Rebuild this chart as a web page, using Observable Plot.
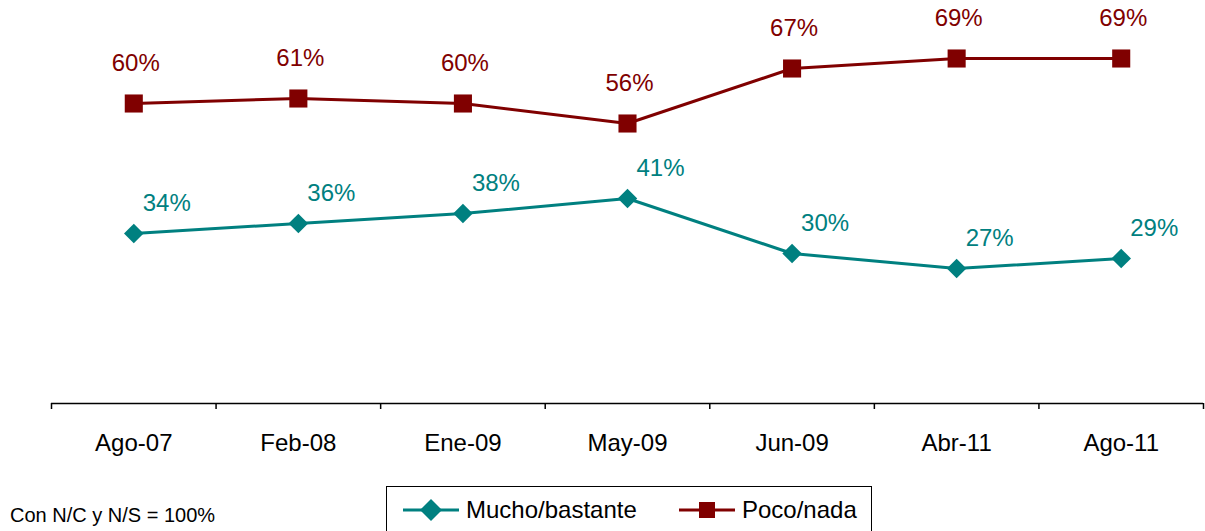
<!DOCTYPE html>
<html>
<head>
<meta charset="utf-8">
<script src="https://cdn.jsdelivr.net/npm/d3@7"></script>
<script src="https://cdn.jsdelivr.net/npm/@observablehq/plot@0.6"></script>
<style>
  body { margin: 0; background: #fff; font-family: "Liberation Sans", Arial, sans-serif; }
  #wrap { position: relative; width: 1205px; height: 531px; overflow: hidden; }
  #caption { position: absolute; left: 10px; top: 504px; font-size: 20px; color: #000; white-space: nowrap; }
  #legend { position: absolute; left: 386px; top: 486px; width: 486px; height: 60px; border: 1.5px solid #000; box-sizing: border-box; }
  .item { position: absolute; top: 9px; display: flex; align-items: center; font-size: 24px; color: #000; white-space: nowrap; }
  .item svg { margin-right: 6px; }
</style>
</head>
<body>
<div id="wrap">
  <div id="chart"></div>
  <div id="caption">Con N/C y N/S = 100%</div>
  <div id="legend"></div>
</div>
<script>
const categories = ["Ago-07", "Feb-08", "Ene-09", "May-09", "Jun-09", "Abr-11", "Ago-11"];
const mucho = [34, 36, 38, 41, 30, 27, 29];
const poco = [60, 61, 60, 56, 67, 69, 69];
const seriesNames = ["Mucho/bastante", "Poco/nada"];
const colors = { "Mucho/bastante": "#008080", "Poco/nada": "#800000" };

const rows = [];
categories.forEach((c, i) => {
  rows.push({ i, cat: c, serie: seriesNames[0], v: mucho[i] });
  rows.push({ i, cat: c, serie: seriesNames[1], v: poco[i] });
});
const mRows = rows.filter(d => d.serie === seriesNames[0]);
const pRows = rows.filter(d => d.serie === seriesNames[1]);
const idx = d3.range(categories.length);
const bounds = d3.range(categories.length + 1).map(k => k - 0.5);

const chart = Plot.plot({
  width: 1205,
  height: 478,
  marginLeft: 51,
  marginRight: 2,
  marginTop: 0,
  marginBottom: 75,
  style: { fontFamily: "Liberation Sans, Arial, sans-serif", background: "#fff" },
  x: { domain: [-0.5, categories.length - 0.5], axis: null },
  y: { domain: [0, 80.6], axis: null },
  marks: [
    Plot.ruleY([0], { stroke: "#000", strokeWidth: 1.5 }),
    Plot.axisX({ ticks: bounds, tickFormat: () => "", tickSize: 6, stroke: "#000", strokeWidth: 1.5, label: null }),
    Plot.axisX({ ticks: idx, tickSize: 0, tickPadding: 30, tickFormat: i => categories[i], fontSize: 24, fill: "#000", label: null }),
    Plot.line(mRows, { x: "i", y: "v", stroke: colors["Mucho/bastante"], strokeWidth: 3 }),
    Plot.line(pRows, { x: "i", y: "v", stroke: colors["Poco/nada"], strokeWidth: 3 }),
    Plot.dot(mRows, { x: "i", y: "v", symbol: "diamond2", r: 8.8, fill: colors["Mucho/bastante"], stroke: null }),
    Plot.dot(pRows, { x: "i", y: "v", symbol: "square", r: 10.2, fill: colors["Poco/nada"], stroke: null }),
    Plot.text(mRows, { x: "i", y: "v", text: d => d.v + "%", dx: 33, dy: -30, fontSize: 24, fill: colors["Mucho/bastante"] }),
    Plot.text(pRows, { x: "i", y: "v", text: d => d.v + "%", dx: 2, dy: -40, fontSize: 24, fill: colors["Poco/nada"] })
  ]
});
document.getElementById("chart").appendChild(chart);

// legend
const legend = document.getElementById("legend");
const items = [
  { name: seriesNames[0], left: 15, glyph: `<svg width="58" height="24"><line x1="1" y1="12" x2="57" y2="12" stroke="${colors[seriesNames[0]]}" stroke-width="3"/><path d="M29,1 L40,12 L29,23 L18,12 Z" fill="${colors[seriesNames[0]]}"/></svg>` },
  { name: seriesNames[1], left: 291, glyph: `<svg width="58" height="24"><line x1="1" y1="12" x2="57" y2="12" stroke="${colors[seriesNames[1]]}" stroke-width="3"/><rect x="21" y="4" width="16" height="16" fill="${colors[seriesNames[1]]}"/></svg>` }
];
items.forEach(it => {
  const el = document.createElement("div");
  el.className = "item";
  el.style.left = it.left + "px";
  el.innerHTML = it.glyph + "<span>" + it.name + "</span>";
  legend.appendChild(el);
});
</script>
</body>
</html>
